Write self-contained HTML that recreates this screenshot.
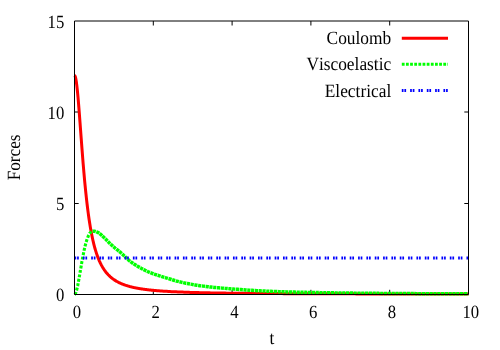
<!DOCTYPE html>
<html><head><meta charset="utf-8"><title>plot</title>
<style>
html,body{margin:0;padding:0;background:#fff;}
svg{display:block;}
text{font-family:"Liberation Serif",serif;font-size:18.67px;fill:#000;text-rendering:geometricPrecision;font-kerning:none;}
</style></head>
<body>
<svg width="500" height="350" viewBox="0 0 500 350">
<rect width="500" height="350" fill="#fff"/>
<g stroke="#000" stroke-width="1" fill="none"><line x1="153.30" y1="294" x2="153.30" y2="289.8"/><line x1="153.30" y1="21" x2="153.30" y2="25.5"/><line x1="232.10" y1="294" x2="232.10" y2="289.8"/><line x1="232.10" y1="21" x2="232.10" y2="25.5"/><line x1="310.90" y1="294" x2="310.90" y2="289.8"/><line x1="310.90" y1="21" x2="310.90" y2="25.5"/><line x1="389.70" y1="294" x2="389.70" y2="289.8"/><line x1="389.70" y1="21" x2="389.70" y2="25.5"/><line x1="74.5" y1="203.50" x2="78.7" y2="203.50"/><line x1="468.5" y1="203.50" x2="464.3" y2="203.50"/><line x1="74.5" y1="112.00" x2="78.7" y2="112.00"/><line x1="468.5" y1="112.00" x2="464.3" y2="112.00"/></g>
<g fill="none" stroke-width="3" stroke-linejoin="round">
<path d="M74.50,75.42 L74.89,75.73 L75.29,76.64 L75.68,78.14 L76.08,80.21 L76.47,82.82 L76.86,85.92 L77.26,89.46 L77.65,93.41 L78.05,97.70 L78.44,102.29 L78.83,107.11 L79.23,112.12 L79.62,117.28 L80.02,122.52 L80.41,127.82 L80.80,133.14 L81.20,138.44 L81.59,143.69 L81.99,148.86 L82.38,153.95 L82.77,158.93 L83.17,163.78 L83.56,168.50 L83.96,173.08 L84.35,177.51 L84.74,181.79 L85.14,185.92 L85.53,189.89 L85.93,193.71 L86.32,197.38 L86.71,200.91 L87.11,204.29 L87.50,207.53 L87.90,210.63 L88.29,213.61 L88.68,216.45 L89.08,219.18 L89.47,221.78 L89.87,224.28 L90.26,226.66 L90.65,228.95 L91.05,231.13 L91.44,233.22 L91.84,235.22 L92.23,237.14 L92.62,238.97 L93.02,240.73 L93.41,242.41 L93.81,244.02 L94.20,245.57 L94.59,247.05 L94.99,248.47 L95.38,249.83 L95.78,251.14 L96.17,252.39 L96.56,253.60 L96.96,254.76 L97.35,255.87 L97.75,256.94 L98.14,257.96 L98.53,258.95 L98.93,259.90 L99.32,260.82 L99.72,261.70 L100.11,262.55 L100.50,263.36 L100.90,264.15 L101.29,264.91 L101.69,265.64 L102.08,266.35 L102.47,267.03 L102.87,267.69 L103.26,268.32 L103.66,268.94 L104.05,269.53 L104.44,270.11 L104.84,270.66 L105.23,271.20 L105.63,271.72 L106.02,272.22 L106.41,272.70 L106.81,273.17 L107.20,273.63 L107.60,274.07 L107.99,274.50 L108.38,274.91 L108.78,275.32 L109.17,275.71 L109.57,276.09 L109.96,276.45 L110.35,276.81 L110.75,277.16 L111.14,277.49 L111.54,277.82 L111.93,278.14 L112.32,278.45 L112.72,278.75 L113.11,279.04 L113.51,279.32 L113.90,279.60 L114.29,279.87 L114.69,280.13 L115.08,280.38 L115.48,280.63 L115.87,280.87 L116.26,281.11 L116.66,281.33 L117.05,281.56 L117.45,281.78 L117.84,281.99 L118.23,282.19 L118.63,282.40 L119.02,282.59 L119.42,282.78 L119.81,282.97 L120.20,283.15 L120.60,283.33 L120.99,283.51 L121.39,283.68 L121.78,283.84 L122.17,284.01 L122.57,284.16 L122.96,284.32 L123.36,284.47 L123.75,284.62 L124.14,284.76 L124.54,284.90 L124.93,285.04 L125.33,285.18 L125.72,285.31 L126.11,285.44 L126.51,285.57 L126.90,285.69 L127.30,285.81 L127.69,285.93 L128.08,286.05 L128.48,286.16 L128.87,286.27 L129.27,286.38 L129.66,286.49 L130.05,286.59 L130.45,286.70 L130.84,286.80 L131.24,286.90 L131.63,286.99 L132.02,287.09 L132.42,287.18 L132.81,287.27 L133.21,287.36 L133.60,287.45 L133.99,287.54 L134.39,287.62 L134.78,287.70 L135.18,287.79 L135.57,287.87 L135.96,287.94 L136.36,288.02 L136.75,288.10 L137.15,288.17 L137.54,288.24 L137.93,288.31 L138.33,288.38 L138.72,288.45 L139.12,288.52 L139.51,288.59 L139.90,288.65 L140.30,288.72 L140.69,288.78 L141.09,288.84 L141.48,288.90 L141.87,288.96 L142.27,289.02 L142.66,289.08 L143.06,289.14 L143.45,289.20 L143.84,289.25 L144.24,289.30 L144.63,289.36 L145.03,289.41 L145.42,289.46 L145.81,289.51 L146.21,289.56 L146.60,289.61 L147.00,289.66 L147.39,289.71 L147.78,289.76 L148.18,289.80 L148.57,289.85 L148.97,289.89 L149.36,289.94 L149.75,289.98 L150.15,290.02 L150.54,290.07 L150.94,290.11 L151.33,290.15 L151.72,290.19 L152.12,290.23 L152.51,290.27 L152.91,290.31 L153.30,290.34 L154.09,290.42 L155.67,290.56 L157.25,290.70 L158.83,290.82 L160.41,290.94 L161.99,291.06 L163.57,291.17 L165.15,291.27 L166.73,291.37 L168.31,291.46 L169.89,291.55 L171.47,291.63 L173.05,291.71 L174.63,291.79 L176.21,291.86 L177.79,291.93 L179.37,292.00 L180.95,292.06 L182.53,292.12 L184.11,292.18 L185.69,292.24 L187.27,292.29 L188.85,292.34 L190.43,292.39 L192.01,292.44 L193.59,292.48 L195.17,292.53 L196.75,292.57 L198.33,292.61 L199.91,292.65 L201.49,292.69 L203.07,292.72 L204.65,292.76 L206.23,292.79 L207.81,292.82 L209.39,292.86 L210.97,292.89 L212.55,292.92 L214.13,292.94 L215.71,292.97 L217.29,293.00 L218.87,293.02 L220.45,293.05 L222.03,293.07 L223.61,293.10 L225.19,293.12 L226.77,293.14 L228.35,293.16 L229.93,293.18 L231.51,293.20 L233.09,293.22 L234.67,293.24 L236.25,293.26 L237.83,293.28 L239.41,293.29 L240.99,293.31 L242.57,293.33 L244.15,293.34 L245.73,293.36 L247.31,293.37 L248.89,293.39 L250.47,293.40 L252.05,293.41 L253.63,293.43 L255.21,293.44 L256.79,293.45 L258.37,293.47 L259.95,293.48 L261.53,293.49 L263.11,293.50 L264.69,293.51 L266.27,293.52 L267.85,293.53 L269.43,293.54 L271.01,293.55 L272.58,293.56 L274.16,293.57 L275.74,293.58 L277.32,293.59 L278.90,293.60 L280.48,293.61 L282.06,293.62 L283.64,293.63 L285.22,293.64 L286.80,293.64 L288.38,293.65 L289.96,293.66 L291.54,293.67 L293.12,293.67 L294.70,293.68 L296.28,293.69 L297.86,293.70 L299.44,293.70 L301.02,293.71 L302.60,293.72 L304.18,293.72 L305.76,293.73 L307.34,293.73 L308.92,293.74 L310.50,293.75 L312.08,293.75 L313.66,293.76 L315.24,293.76 L316.82,293.77 L318.40,293.77 L319.98,293.78 L321.56,293.78 L323.14,293.79 L324.72,293.79 L326.30,293.80 L327.88,293.80 L329.46,293.81 L331.04,293.81 L332.62,293.82 L334.20,293.82 L335.78,293.83 L337.36,293.83 L338.94,293.83 L340.52,293.84 L342.10,293.84 L343.68,293.85 L345.26,293.85 L346.84,293.85 L348.42,293.86 L350.00,293.86 L351.58,293.87 L353.16,293.87 L354.74,293.87 L356.32,293.88 L357.90,293.88 L359.48,293.88 L361.06,293.89 L362.64,293.89 L364.22,293.89 L365.80,293.90 L367.38,293.90 L368.96,293.90 L370.54,293.90 L372.12,293.91 L373.70,293.91 L375.28,293.91 L376.86,293.92 L378.44,293.92 L380.02,293.92 L381.60,293.92 L383.18,293.93 L384.76,293.93 L386.34,293.93 L387.92,293.93 L389.50,293.94 L391.08,293.94 L392.66,293.94 L394.24,293.94 L395.82,293.95 L397.40,293.95 L398.98,293.95 L400.56,293.95 L402.14,293.96 L403.72,293.96 L405.30,293.96 L406.88,293.96 L408.46,293.96 L410.04,293.97 L411.62,293.97 L413.20,293.97 L414.78,293.97 L416.36,293.97 L417.94,293.98 L419.52,293.98 L421.10,293.98 L422.68,293.98 L424.26,293.98 L425.84,293.98 L427.42,293.99 L429.00,293.99 L430.58,293.99 L432.16,293.99 L433.74,293.99 L435.32,294.00 L436.90,294.00 L438.48,294.00 L440.06,294.00 L441.64,294.00 L443.22,294.00 L444.80,294.00 L446.38,294.01 L447.96,294.01 L449.54,294.01 L451.12,294.01 L452.70,294.01 L454.28,294.01 L455.86,294.01 L457.44,294.02 L459.02,294.02 L460.60,294.02 L462.18,294.02 L463.76,294.02 L465.34,294.02 L466.92,294.02 L468.50,294.03" stroke="#f00"/>
<line x1="401.8" y1="38.3" x2="448" y2="38.3" stroke="#f00"/>
<path d="M74.50,294.40 L74.89,294.12 L75.29,293.60 L75.68,292.94 L76.08,292.03 L76.47,290.75 L76.86,289.23 L77.26,287.58 L77.65,285.86 L78.05,283.84 L78.44,281.65 L78.83,279.45 L79.23,277.28 L79.62,275.06 L80.02,272.82 L80.41,270.57 L80.80,268.26 L81.20,265.92 L81.59,263.58 L81.99,261.30 L82.38,259.12 L82.77,257.04 L83.17,254.99 L83.56,252.99 L83.96,251.06 L84.35,249.22 L84.74,247.50 L85.14,245.91 L85.53,244.40 L85.93,242.96 L86.32,241.59 L86.71,240.31 L87.11,239.13 L87.50,238.07 L87.90,237.06 L88.29,236.06 L88.68,235.13 L89.08,234.29 L89.47,233.59 L89.87,233.08 L90.26,232.73 L90.65,232.41 L91.05,232.12 L91.44,231.85 L91.84,231.62 L92.23,231.43 L92.62,231.28" stroke="#0f0" stroke-width="3.1" stroke-dasharray="2.9 1.6"/>
<path d="M92.62,231.28 L93.02,231.19 L93.41,231.14 L93.81,231.15 L94.20,231.19 L94.59,231.26 L94.99,231.35 L95.38,231.46 L95.78,231.59 L96.17,231.74 L96.56,231.90 L96.96,232.06 L97.35,232.23 L97.75,232.41 L98.14,232.58 L98.53,232.78 L98.93,233.02 L99.32,233.28 L99.72,233.57 L100.11,233.89 L100.50,234.22 L100.90,234.57 L101.29,234.93 L101.69,235.30 L102.08,235.68 L102.47,236.06 L102.87,236.44 L103.26,236.82 L103.66,237.20 L104.05,237.56 L104.44,237.92 L104.84,238.30 L105.23,238.69 L105.63,239.08 L106.02,239.48 L106.41,239.89 L106.81,240.30 L107.20,240.71 L107.60,241.12 L107.99,241.53 L108.38,241.94 L108.78,242.34 L109.17,242.74 L109.57,243.12 L109.96,243.50 L110.35,243.87 L110.75,244.24 L111.14,244.60 L111.54,244.97 L111.93,245.32 L112.32,245.68 L112.72,246.03 L113.11,246.38 L113.51,246.72 L113.90,247.07 L114.29,247.40 L114.69,247.74 L115.08,248.07 L115.48,248.39 L115.87,248.71 L116.26,249.02 L116.66,249.32 L117.05,249.63 L117.45,249.93 L117.84,250.23 L118.23,250.54 L118.63,250.85 L119.02,251.17 L119.42,251.49 L119.81,251.83 L120.20,252.17 L120.60,252.52 L120.99,252.87 L121.39,253.23 L121.78,253.60 L122.17,253.96 L122.57,254.33 L122.96,254.70 L123.36,255.08 L123.75,255.45 L124.14,255.83 L124.54,256.20 L124.93,256.57 L125.33,256.95 L125.72,257.32 L126.11,257.69 L126.51,258.05 L126.90,258.41 L127.30,258.78 L127.69,259.15 L128.08,259.52 L128.48,259.89 L128.87,260.25 L129.27,260.60 L129.66,260.94 L130.05,261.25 L130.45,261.55 L130.84,261.85 L131.24,262.14 L131.63,262.42 L132.02,262.70 L132.42,262.98 L132.81,263.25 L133.21,263.52 L133.60,263.78 L133.99,264.04 L134.39,264.29 L134.78,264.54 L135.18,264.79 L135.57,265.04 L135.96,265.28 L136.36,265.52 L136.75,265.75 L137.15,265.98 L137.54,266.21 L137.93,266.44 L138.33,266.67 L138.72,266.89 L139.12,267.12 L139.51,267.34 L139.90,267.56 L140.30,267.78 L140.69,267.99 L141.09,268.21 L141.48,268.42 L141.87,268.64 L142.27,268.85 L142.66,269.06 L143.06,269.26 L143.45,269.47 L143.84,269.67 L144.24,269.87 L144.63,270.07 L145.03,270.27 L145.42,270.46 L145.81,270.66 L146.21,270.85 L146.60,271.03 L147.00,271.22 L147.39,271.40 L147.78,271.58 L148.18,271.75 L148.57,271.93 L148.97,272.10 L149.36,272.26 L149.75,272.43 L150.15,272.59 L150.54,272.75 L150.94,272.90 L151.33,273.05 L151.72,273.20 L152.12,273.35 L152.51,273.49 L152.91,273.63 L153.30,273.77 L154.09,274.05 L155.67,274.58 L157.25,275.10 L158.83,275.61 L160.41,276.12 L161.99,276.62 L163.57,277.12 L165.15,277.60 L166.73,278.08 L168.31,278.56 L169.89,279.04 L171.47,279.53 L173.05,280.03 L174.63,280.51 L176.21,280.98 L177.79,281.40 L179.37,281.79 L180.95,282.16 L182.53,282.52 L184.11,282.87 L185.69,283.20 L187.27,283.51 L188.85,283.82 L190.43,284.11 L192.01,284.39 L193.59,284.66 L195.17,284.93 L196.75,285.18 L198.33,285.43 L199.91,285.67 L201.49,285.90 L203.07,286.11 L204.65,286.32 L206.23,286.52 L207.81,286.71 L209.39,286.90 L210.97,287.08 L212.55,287.25 L214.13,287.41 L215.71,287.57 L217.29,287.72 L218.87,287.86 L220.45,287.99 L222.03,288.12 L223.61,288.25 L225.19,288.38 L226.77,288.50 L228.35,288.63 L229.93,288.75 L231.51,288.88 L233.09,289.00 L234.67,289.12 L236.25,289.24 L237.83,289.36 L239.41,289.48 L240.99,289.59 L242.57,289.70 L244.15,289.81 L245.73,289.92 L247.31,290.03 L248.89,290.14 L250.47,290.24 L252.05,290.34 L253.63,290.44 L255.21,290.53 L256.79,290.63 L258.37,290.72 L259.95,290.81 L261.53,290.90 L263.11,290.98 L264.69,291.06 L266.27,291.14 L267.85,291.21 L269.43,291.28 L271.01,291.35 L272.58,291.42 L274.16,291.48 L275.74,291.54 L277.32,291.60 L278.90,291.65 L280.48,291.70 L282.06,291.75 L283.64,291.80 L285.22,291.84 L286.80,291.89 L288.38,291.93 L289.96,291.98 L291.54,292.02 L293.12,292.06 L294.70,292.10 L296.28,292.14 L297.86,292.18 L299.44,292.21 L301.02,292.25 L302.60,292.29 L304.18,292.32 L305.76,292.36 L307.34,292.39 L308.92,292.42 L310.50,292.45 L312.08,292.49 L313.66,292.52 L315.24,292.55 L316.82,292.58 L318.40,292.60 L319.98,292.63 L321.56,292.66 L323.14,292.69 L324.72,292.71 L326.30,292.74 L327.88,292.76 L329.46,292.79 L331.04,292.81 L332.62,292.84 L334.20,292.86 L335.78,292.88 L337.36,292.90 L338.94,292.93 L340.52,292.95 L342.10,292.97 L343.68,292.99 L345.26,293.01 L346.84,293.03 L348.42,293.05 L350.00,293.07 L351.58,293.09 L353.16,293.11 L354.74,293.13 L356.32,293.15 L357.90,293.16 L359.48,293.18 L361.06,293.20 L362.64,293.21 L364.22,293.23 L365.80,293.25 L367.38,293.26 L368.96,293.28 L370.54,293.29 L372.12,293.31 L373.70,293.32 L375.28,293.34 L376.86,293.35 L378.44,293.37 L380.02,293.38 L381.60,293.39 L383.18,293.40 L384.76,293.42 L386.34,293.43 L387.92,293.44 L389.50,293.45 L391.08,293.46 L392.66,293.47 L394.24,293.48 L395.82,293.49 L397.40,293.51 L398.98,293.52 L400.56,293.53 L402.14,293.54 L403.72,293.55 L405.30,293.56 L406.88,293.57 L408.46,293.58 L410.04,293.59 L411.62,293.60 L413.20,293.61 L414.78,293.62 L416.36,293.63 L417.94,293.64 L419.52,293.65 L421.10,293.66 L422.68,293.67 L424.26,293.68 L425.84,293.68 L427.42,293.69 L429.00,293.70 L430.58,293.71 L432.16,293.72 L433.74,293.73 L435.32,293.74 L436.90,293.74 L438.48,293.75 L440.06,293.76 L441.64,293.77 L443.22,293.77 L444.80,293.78 L446.38,293.79 L447.96,293.79 L449.54,293.80 L451.12,293.80 L452.70,293.81 L454.28,293.82 L455.86,293.82 L457.44,293.83 L459.02,293.83 L460.60,293.83 L462.18,293.84 L463.76,293.84 L465.34,293.85 L466.92,293.85 L468.50,293.85" stroke="#0f0" stroke-width="3.5" stroke-dasharray="3.2 0.6"/>
<line x1="401.8" y1="64.2" x2="448" y2="64.2" stroke="#0f0" stroke-dasharray="2.8 1.35"/>
<line x1="74.5" y1="257.95" x2="468.5" y2="257.95" stroke="#00f" stroke-dasharray="1.7 0.9 1.7 4.04"/>
<line x1="401.8" y1="90.4" x2="448" y2="90.4" stroke="#00f" stroke-dasharray="1.7 0.9 1.7 4.03"/>
</g>
<path d="M74.5,21 H468.5 V294.5 H74.5 Z" fill="none" stroke="#000" stroke-width="1"/>
<g style="opacity:0.999"><text transform="translate(76.80,317.80) scale(0.895,1)" text-anchor="middle">0</text><text transform="translate(155.60,317.80) scale(0.895,1)" text-anchor="middle">2</text><text transform="translate(234.40,317.80) scale(0.895,1)" text-anchor="middle">4</text><text transform="translate(313.20,317.80) scale(0.895,1)" text-anchor="middle">6</text><text transform="translate(392.00,317.80) scale(0.895,1)" text-anchor="middle">8</text><text transform="translate(470.80,317.80) scale(0.895,1)" text-anchor="middle">10</text><text transform="translate(64.30,301.05) scale(0.895,1)" text-anchor="end">0</text><text transform="translate(64.30,210.05) scale(0.895,1)" text-anchor="end">5</text><text transform="translate(64.30,118.55) scale(0.895,1)" text-anchor="end">10</text><text transform="translate(64.30,27.55) scale(0.895,1)" text-anchor="end">15</text><text transform="translate(271.90,343.80) scale(0.930,1)" text-anchor="middle">t</text><text transform="translate(20.00,157.40) rotate(-90) scale(0.918,1)" text-anchor="middle">Forces</text><text transform="translate(391.20,43.90) scale(0.930,1)" text-anchor="end">Coulomb</text><text transform="translate(391.20,70.20) scale(0.930,1)" text-anchor="end">Viscoelastic</text><text transform="translate(391.20,96.60) scale(0.930,1)" text-anchor="end">Electrical</text></g>
</svg>
</body></html>
